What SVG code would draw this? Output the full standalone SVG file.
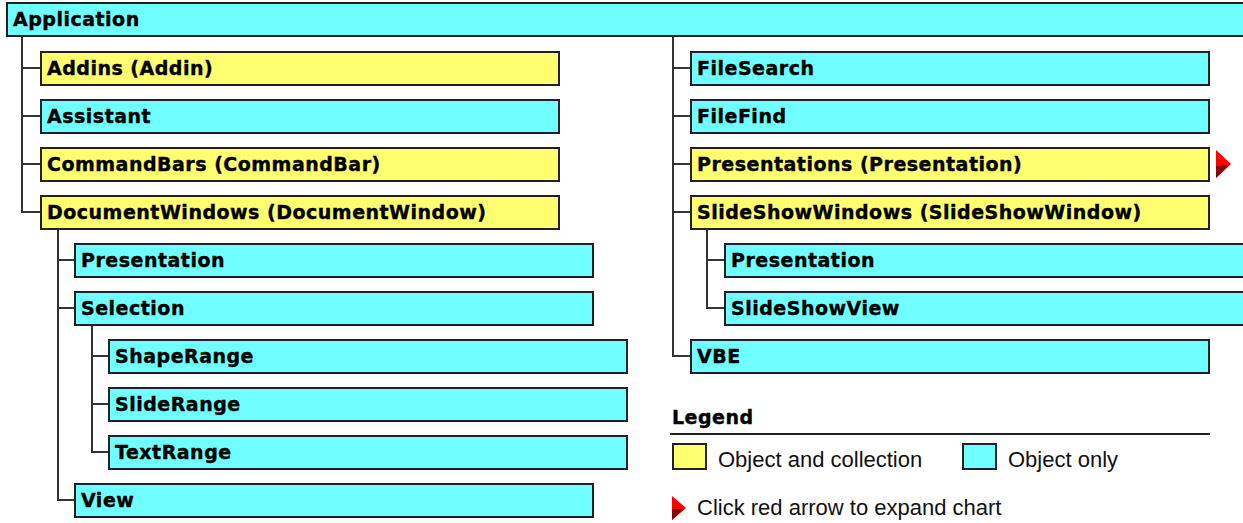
<svg xmlns="http://www.w3.org/2000/svg" width="1243" height="523" viewBox="0 0 1243 523">
<style>
.c{fill:#70ffff;stroke:#222;stroke-width:2}
.y{fill:#ffff70;stroke:#222;stroke-width:2}
.t{font-family:"DejaVu Sans",sans-serif;font-weight:bold;font-size:19px;letter-spacing:0.5px;fill:#000;stroke:#000;stroke-width:0.4px}
.r{font-family:"Liberation Sans",Arial,sans-serif;font-size:22px;fill:#111}
.ln{fill:none;stroke:#333;stroke-width:2}
</style>
<g id="connectors">
<path class="ln" d="M22 37V212H40M22 68H40M22 116H40M22 164H40"/>
<path class="ln" d="M58 229V500H74M58 260H74M58 308H74"/>
<path class="ln" d="M92 325V452H108M92 356H108M92 404H108"/>
<path class="ln" d="M673 37V356H690M673 68H690M673 116H690M673 164H690M673 212H690"/>
<path class="ln" d="M707 229V308H724M707 260H724"/>
</g>
<g id="application"><rect class="c" x="7" y="3" width="1240" height="33"/><text class="t" x="13" y="26">Application</text></g>
<g id="addins"><rect class="y" x="41" y="52" width="518" height="33"/><text class="t" x="47" y="75">Addins (Addin)</text></g>
<g id="assistant"><rect class="c" x="41" y="100" width="518" height="33"/><text class="t" x="47" y="123">Assistant</text></g>
<g id="commandbars"><rect class="y" x="41" y="148" width="518" height="33"/><text class="t" x="47" y="171">CommandBars (CommandBar)</text></g>
<g id="documentwindows"><rect class="y" x="41" y="196" width="518" height="33"/><text class="t" x="47" y="219">DocumentWindows (DocumentWindow)</text></g>
<g id="presentation1"><rect class="c" x="75" y="244" width="518" height="33"/><text class="t" x="81" y="267">Presentation</text></g>
<g id="selection"><rect class="c" x="75" y="292" width="518" height="33"/><text class="t" x="81" y="315">Selection</text></g>
<g id="shaperange"><rect class="c" x="109" y="340" width="518" height="33"/><text class="t" x="115" y="363">ShapeRange</text></g>
<g id="sliderange"><rect class="c" x="109" y="388" width="518" height="33"/><text class="t" x="115" y="411">SlideRange</text></g>
<g id="textrange"><rect class="c" x="109" y="436" width="518" height="33"/><text class="t" x="115" y="459">TextRange</text></g>
<g id="view"><rect class="c" x="75" y="484" width="518" height="33"/><text class="t" x="81" y="507">View</text></g>
<g id="filesearch"><rect class="c" x="691" y="52" width="518" height="33"/><text class="t" x="697" y="75">FileSearch</text></g>
<g id="filefind"><rect class="c" x="691" y="100" width="518" height="33"/><text class="t" x="697" y="123">FileFind</text></g>
<g id="presentations"><rect class="y" x="691" y="148" width="518" height="33"/><text class="t" x="697" y="171">Presentations (Presentation)</text></g>
<g id="expand-arrow"><polygon points="1216,150 1231,164 1216,178" fill="#f00"/><polygon points="1216,166 1229,165 1216,178" fill="#800"/></g>
<g id="slideshowwindows"><rect class="y" x="691" y="196" width="518" height="33"/><text class="t" x="697" y="219">SlideShowWindows (SlideShowWindow)</text></g>
<g id="presentation2"><rect class="c" x="725" y="244" width="520" height="33"/><text class="t" x="731" y="267">Presentation</text></g>
<g id="slideshowview"><rect class="c" x="725" y="292" width="520" height="33"/><text class="t" x="731" y="315">SlideShowView</text></g>
<g id="vbe"><rect class="c" x="691" y="340" width="518" height="33"/><text class="t" x="697" y="363">VBE</text></g>
<g id="legend">
<text class="t" x="672" y="424">Legend</text>
<line x1="670" y1="434" x2="1210" y2="434" stroke="#222" stroke-width="2"/>
<rect class="y" x="673" y="444" width="33" height="25"/>
<text class="r" x="718" y="467">Object and collection</text>
<rect class="c" x="963" y="444" width="33" height="25"/>
<text class="r" x="1008" y="467">Object only</text>
<polygon points="672,496 686,508 672,520" fill="#f00"/><polygon points="672,509 684,509 672,520" fill="#800"/>
<text class="r" x="697" y="515">Click red arrow to expand chart</text>
</g>
</svg>
